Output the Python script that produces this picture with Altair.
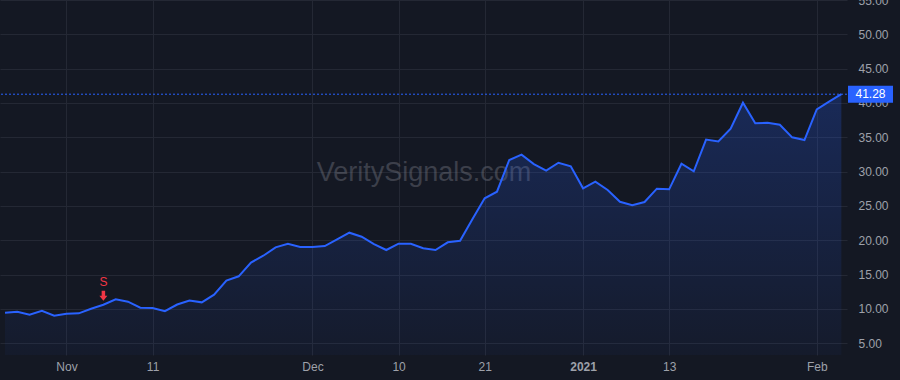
import altair as alt
import pandas as pd

# Daily closes, one per trading day (Oct 26 2020 .. Feb 3 2021)
prices = [9.46, 9.60, 9.17, 9.75, 9.02, 9.31, 9.37, 10.04, 10.62, 11.41,
          11.06, 10.18, 10.14, 9.68, 10.65, 11.23, 10.97, 12.08, 14.15, 14.76,
          16.77, 17.76, 18.98, 19.49, 19.03, 19.03, 19.17, 20.15, 21.11, 20.53,
          19.46, 18.59, 19.51, 19.51, 18.84, 18.59, 19.71, 19.94, 23.06, 26.12,
          27.08, 31.70, 32.47, 31.11, 30.14, 31.30, 30.78, 27.57, 28.54, 27.33,
          25.62, 25.10, 25.58, 27.52, 27.43, 31.16, 30.05, 34.68, 34.39, 36.26,
          40.04, 37.04, 37.13, 36.84, 35.00, 34.61, 39.08, 40.19, 41.28]
bar_index = list(range(len(prices)))

# time-axis labels (bar index -> label)
tick_index = [5, 12, 25, 32, 39, 47, 54, 66]
tick_labels = ["Nov", "11", "Dec", "10", "21", "2021", "13", "Feb"]
bold_tick = 47

# price axis
price_ticks = [5, 10, 15, 20, 25, 30, 35, 40, 45, 50, 55]

# sell signal
signal_index = [8]
signal_label = ["S"]

watermark = "VeritySignals.com"

BG = "#141823"
GRID = "#242834"
TEXT = "#9ea1aa"
BLUE = "#2962ff"
RED = "#f23645"
FONT = "Liberation Sans"

df = pd.DataFrame({"i": bar_index, "price": prices})
sig = pd.DataFrame({"i": signal_index, "label": signal_label,
                    "price": [prices[k] for k in signal_index]})
last = pd.DataFrame({"price": [prices[-1]], "txt": [f"{prices[-1]:.2f}"]})

label_expr = " : ".join(
    f"datum.value == {v} ? '{t}'" for v, t in zip(tick_index, tick_labels)
) + " : ''"

xscale = alt.Scale(domain=[-0.4065, 68.46], nice=False, zero=False)
yscale = alt.Scale(domain=[3.3, 55], nice=False, zero=False)

x_axis = alt.Axis(values=tick_index, labelExpr=label_expr, grid=True,
                  gridColor=GRID, ticks=False, tickSize=0, domain=False,
                  title=None, labelPadding=6, labelFontSize=12,
                  labelColor=TEXT, labelFont=FONT, labelOverlap=False,
                  labelFlush=False, labelBound=False,
                  labelFontWeight={"condition": {"test": f"datum.value == {bold_tick}",
                                                 "value": "bold"},
                                   "value": "normal"})
y_axis = alt.Axis(orient="right", values=price_ticks, format=".2f", grid=True,
                  gridColor=GRID, ticks=False, tickSize=0, domain=False,
                  title=None, labelPadding=11, labelFontSize=12,
                  labelColor=TEXT, labelFont=FONT, labelOverlap=False,
                  labelFlush=False, labelBound=False)

X = alt.X("i:Q", scale=xscale, axis=x_axis)
Y = alt.Y("price:Q", scale=yscale, axis=y_axis)

wm = alt.Chart(pd.DataFrame({"t": [watermark]})).mark_text(
    font=FONT, fontSize=27, color="#787b86", opacity=0.4,
    align="center", baseline="middle"
).encode(x=alt.value(424), y=alt.value(173), text="t:N")

area = alt.Chart(df).mark_area(
    clip=True,
    fill=alt.Gradient(
        gradient="linear",
        stops=[alt.GradientStop(color="rgba(41,98,255,0.24)", offset=0),
               alt.GradientStop(color="rgba(41,98,255,0.04)", offset=1)],
        x1=1, x2=1, y1=0, y2=1),
).encode(x=X, y=Y, y2=alt.datum(3.3))

line = alt.Chart(df).mark_line(color=BLUE, strokeWidth=2, clip=True).encode(
    x=X, y=Y)

price_line = alt.Chart(last).mark_rule(
    color=BLUE, strokeDash=[2, 2], strokeWidth=1
).encode(y=Y)

rect_path = "M -2.25 -0.85 L 2.25 -0.85 L 2.25 0.85 L -2.25 0.85 Z"
price_box = alt.Chart(last).mark_point(
    shape=rect_path, size=400, filled=True, color=BLUE, opacity=1, strokeWidth=0
).encode(x=alt.value(870.5), y=Y)

price_txt = alt.Chart(last).mark_text(
    color="white", font=FONT, fontSize=12, align="center", baseline="middle"
).encode(x=alt.value(870.5), y=Y, text="txt:N")

arrow_path = "M -0.35 -1 L 0.35 -1 L 0.35 0 L 0.8 0 L 0 1 L -0.8 0 L -0.35 0 Z"
sig_arrow = alt.Chart(sig).mark_point(
    shape=arrow_path, size=100, filled=True, color=RED, opacity=1,
    strokeWidth=0, yOffset=-9
).encode(x=X, y=Y)

sig_text = alt.Chart(sig).mark_text(
    color=RED, font=FONT, fontSize=12, align="center", baseline="middle",
    dy=-23
).encode(x=X, y=Y, text="label:N")

chart = alt.layer(
    wm, area, line, price_line, sig_arrow, sig_text, price_box, price_txt
).properties(
    width=847, height=355,
    autosize=alt.AutoSizeParams(type="none"),
    padding={"left": 0, "top": 0, "right": 53, "bottom": 25},
    background=BG,
).configure_view(stroke=None, fill=BG).configure_axis(labelOverlap=False)

chart.save("out.html", embed_options={"renderer": "svg", "actions": False})
